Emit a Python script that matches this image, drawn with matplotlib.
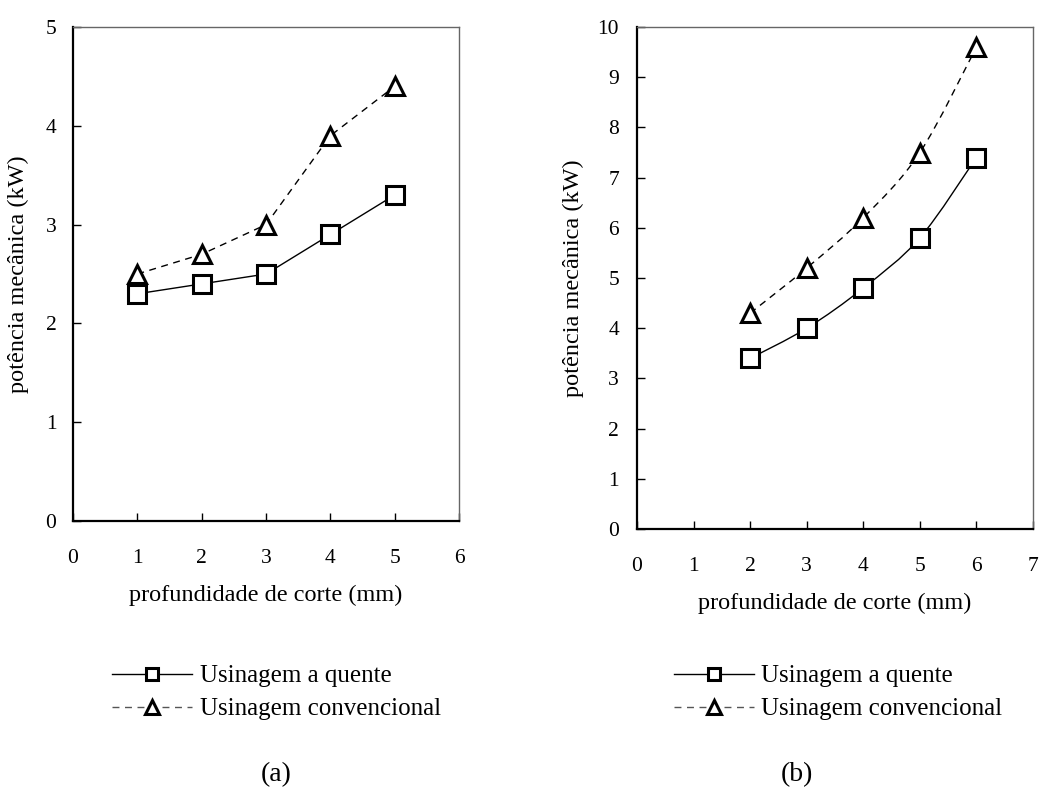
import matplotlib
matplotlib.use('Agg')
import matplotlib.pyplot as plt
from matplotlib.path import Path
from matplotlib.patches import PathPatch
from matplotlib.lines import Line2D
import numpy as np

plt.rcParams['font.family'] = ['Liberation Serif', 'DejaVu Serif']

# panel (a)
prof_a = [1, 2, 3, 4, 5]
quente_a = [2.3, 2.4, 2.5, 2.9, 3.3]
conv_a = [2.5, 2.7, 3.0, 3.9, 4.4]

# panel (b)
prof_b = [2, 3, 4, 5, 6]
quente_b = [3.4, 4.0, 4.8, 5.8, 7.4]
conv_b = [4.3, 5.2, 6.2, 7.5, 9.6]

lbl_quente = 'Usinagem a quente'
lbl_conv = 'Usinagem convencional'
xlabel = 'profundidade de corte (mm)'
ylabel = 'potência mecânica (kW)'

DASH = (0, (5, 4))


def smooth_path(x, y):
    # Catmull-Rom style cubic bezier through the points
    pts = np.column_stack([x, y]).astype(float)
    verts = [pts[0]]
    codes = [Path.MOVETO]
    n = len(pts)
    for i in range(n - 1):
        p0 = pts[max(i - 1, 0)]
        p1 = pts[i]
        p2 = pts[i + 1]
        p3 = pts[min(i + 2, n - 1)]
        c1 = p1 + (p2 - p0) / 6.0
        c2 = p2 - (p3 - p1) / 6.0
        verts += [c1, c2, p2]
        codes += [Path.CURVE4] * 3
    return Path(verts, codes)


def style_axes(ax, xmax, ymax, ypad, ylpad):
    ax.set_xlim(0, xmax)
    ax.set_ylim(0, ymax)
    ax.set_xticks(range(0, xmax + 1))
    ax.set_yticks(range(0, ymax + 1))
    ax.tick_params(direction='in', length=6, width=1, labelsize=15.5)
    ax.tick_params(axis='x', pad=20)
    ax.tick_params(axis='y', pad=ypad)
    for s in ['left', 'bottom']:
        ax.spines[s].set_linewidth(1.6)
    for s in ['top', 'right']:
        ax.spines[s].set_linewidth(1.0)
        ax.spines[s].set_color('#666666')
    ax.set_xlabel(xlabel, fontsize=17.5, labelpad=12)
    ax.set_ylabel(ylabel, fontsize=17.5, labelpad=ylpad)


mk_sq = dict(marker='s', markersize=13, markerfacecolor='white',
             markeredgecolor='black', markeredgewidth=2.2)
mk_tri = dict(marker='^', markersize=13, markerfacecolor='white',
              markeredgecolor='black', markeredgewidth=2.2)

fig = plt.figure(figsize=(10.4, 7.99), dpi=100)

ax1 = fig.add_axes([0.0702, 0.3479, 0.3712, 0.6183])
ax1.plot(prof_a, conv_a, color='black', lw=1, linestyle=DASH, **mk_tri)
ax1.plot(prof_a, quente_a, color='black', lw=1, **mk_sq)
style_axes(ax1, 6, 5, 12, 12)

ax2 = fig.add_axes([0.6125, 0.3379, 0.3808, 0.6283])
ax2.add_patch(PathPatch(smooth_path(prof_b, conv_b), fill=False,
                        edgecolor='black', lw=1, linestyle=DASH))
ax2.add_patch(PathPatch(smooth_path(prof_b, quente_b), fill=False,
                        edgecolor='black', lw=1))
ax2.plot(prof_b, conv_b, linestyle='none', **mk_tri)
ax2.plot(prof_b, quente_b, linestyle='none', **mk_sq)
style_axes(ax2, 7, 10, 13, 10)

handles = [
    Line2D([], [], color='black', lw=1, marker='s', markersize=9,
           markerfacecolor='white', markeredgecolor='black', markeredgewidth=2.2),
    Line2D([], [], color='#555555', lw=1, linestyle=DASH, marker='^', markersize=10,
           markerfacecolor='white', markeredgecolor='black', markeredgewidth=2.2),
]
labels = [lbl_quente, lbl_conv]
for x0 in [0.108, 0.648]:
    fig.legend(handles, labels, loc='upper left', bbox_to_anchor=(x0, 0.168),
               bbox_transform=fig.transFigure, frameon=False, fontsize=18,
               handlelength=3.2, handletextpad=0.3, labelspacing=0.42,
               borderpad=0, borderaxespad=0, numpoints=1)

fig.text(0.266, 0.030, '(a)', fontsize=20, ha='center', va='center')
fig.text(0.766, 0.030, '(b)', fontsize=20, ha='center', va='center')

fig.savefig('out.png', dpi=100)
